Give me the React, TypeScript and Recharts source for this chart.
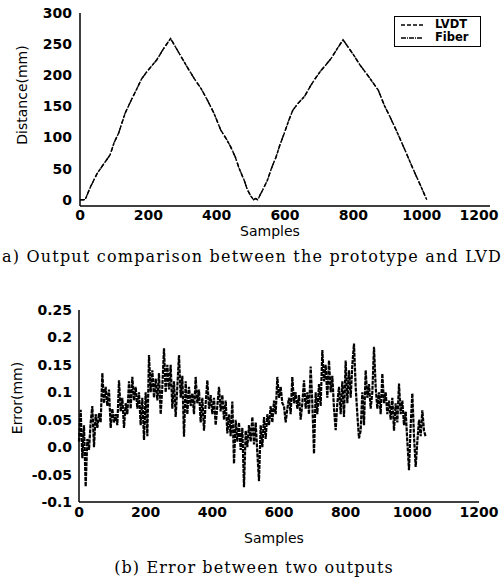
import { LineChart, Line, XAxis, YAxis } from "recharts";

// (a) distance vs samples
const distSamples = [
  0, 15, 30, 50, 70, 88, 100, 113, 132, 150, 167, 180, 196, 210, 225, 245, 265, 280, 299, 315,
  334, 355, 373, 392, 412, 430, 441, 455, 466, 480, 490, 500, 508, 514, 520, 535, 549, 560, 574, 585,
  598, 610, 623, 640, 657, 676, 690, 706, 720, 735, 752, 770, 785, 804, 820, 838, 855, 873, 892,
  905, 921, 935, 951, 965, 980, 995, 1010, 1015,
];
const lvdt = [
  0, 0, 20, 42, 58, 72, 92, 107, 139, 160, 179, 194, 206, 215, 225, 243, 259, 245, 227, 212,
  195, 178, 160, 139, 112, 96, 85, 68, 50, 32, 16, 6, 0, 2, 0, 16, 32, 50, 69, 88,
  107, 126, 144, 156, 166, 184, 196, 208, 217, 227, 242, 257, 245, 230, 216, 203, 190, 176, 150,
  136, 117, 100, 80, 62, 43, 25, 6, 0,
];
const fiber = [
  0.1, 0.2, 19.9, 42.1, 57.9, 72.1, 91.9, 107.1, 138.9, 160.1, 178.9, 194.1, 205.9, 215.1, 224.9, 243.1, 258.9, 245.1, 226.9, 212.1,
  194.9, 178.1, 159.9, 139.1, 111.9, 96.1, 84.9, 68.1, 49.9, 32.1, 15.9, 6.1, 0.1, 2.1, 0.1, 16.1, 31.9, 50.1, 68.9, 88.1,
  106.9, 126.1, 143.9, 156.1, 165.9, 184.1, 195.9, 208.1, 216.9, 227.1, 241.9, 256.9, 245.1, 229.9, 216.1, 202.9, 190.1, 175.9, 150.1,
  135.9, 117.1, 99.9, 80.1, 61.9, 43.1, 24.9, 6.1, 0.1,
];
const distTicksY = [0, 50, 100, 150, 200, 250, 300];
const sampleTicks = [0, 200, 400, 600, 800, 1000, 1200];

// (b) error, one reading every errStep samples
const errStep = 5;
const errValues = [
  0.01, 0.068, -0.02, 0.04, -0.072, 0.015, -0.005, 0.045, 0.075, 0.0, 0.06,
  0.035, 0.062, 0.045, 0.135, 0.08, 0.11, 0.075, 0.105, 0.035, 0.07,
  0.045, 0.06, 0.04, 0.122, 0.065, 0.09, 0.035, 0.08, 0.06, 0.12,
  0.07, 0.128, 0.085, 0.11, 0.07, 0.1, 0.04, 0.09, 0.013, 0.1,
  0.02, 0.168, 0.1, 0.14, 0.09, 0.125, 0.085, 0.135, 0.06, 0.11,
  0.18, 0.1, 0.15, 0.105, 0.15, 0.07, 0.12, 0.055, 0.11, 0.168,
  0.09, 0.13, 0.019, 0.12, 0.06, 0.11, 0.075, 0.098, 0.06, 0.128,
  0.08, 0.105, 0.045, 0.09, 0.03, 0.08, 0.122, 0.07, 0.095, 0.06,
  0.09, 0.04, 0.075, 0.11, 0.065, 0.095, 0.05, 0.085, 0.025, 0.06,
  0.02, 0.083, -0.03, 0.05, 0.01, 0.045, -0.005, 0.035, -0.073, 0.03,
  0.0, 0.04, 0.01, 0.055, 0.005, 0.045, -0.01, -0.062, 0.04, 0.0,
  0.055, 0.015, 0.06, 0.04, 0.075, 0.045, 0.085, 0.06, 0.128, 0.09,
  0.11, 0.08, 0.075, 0.045, 0.07, 0.09, 0.06, 0.128, 0.08, 0.1,
  0.07, 0.095, 0.05, 0.08, 0.122, 0.07, 0.1, 0.06, 0.147, 0.08,
  -0.012, 0.1, 0.06, 0.115, 0.075, 0.177, 0.12, 0.15, 0.09, 0.158,
  0.1, 0.13, 0.07, 0.031, 0.08, 0.11, 0.06, 0.12, 0.055, 0.158,
  0.08, 0.14, 0.09, 0.15, 0.189, 0.11, 0.06, 0.016, 0.03, 0.1,
  0.04, 0.14, 0.09, 0.115, 0.07, 0.1, 0.183, 0.11, 0.07, 0.1,
  0.06, 0.134, 0.08, 0.1, 0.06, 0.085, 0.05, 0.09, 0.03, 0.08,
  0.045, 0.116, 0.06, 0.085, 0.04, 0.065, 0.01, -0.042, 0.04, 0.098,
  0.02, -0.036, 0.01, 0.05, 0.02, 0.067, 0.03, 0.019,
];
const errTicksY = [-0.1, -0.05, 0, 0.05, 0.1, 0.15, 0.2, 0.25];

const distData = distSamples.map((s, i) => ({ sample: s, lvdt: lvdt[i], fiber: fiber[i] }));
const errData = errValues.map((v, i) => ({ sample: i * errStep, err: v }));

const sans = "'DejaVu Sans', sans-serif";
const serif = "'DejaVu Serif', serif";
const tickStyle = { fontSize: 14, fontWeight: 700, fill: "#000", fontFamily: sans };
const axisLine = { stroke: "#000", strokeWidth: 1.5 };

const fmtErr = (v: number) => (v === 0 ? "0.0" : String(v));

// last x label sits at the page edge in the scan, pull it in a little
function makeXTick(lastShift: number) {
  return (props: any) => {
    const { x, y, payload } = props;
    const dx = payload.value === 1200 ? lastShift : 0;
    return (
      <text x={x + dx} y={y} dy="0.71em" textAnchor="middle" {...tickStyle}>
        {payload.value}
      </text>
    );
  };
}

function AxisTitle({ text, x, y, rotate }: { text: string; x: number; y: number; rotate?: boolean }) {
  return (
    <div
      style={{
        position: "absolute",
        left: x,
        top: y,
        transform: `translate(-50%, -50%)${rotate ? " rotate(-90deg)" : ""}`,
        fontFamily: sans,
        fontSize: 14,
        lineHeight: "14px",
        whiteSpace: "nowrap",
        color: "#000",
      }}
    >
      {text}
    </div>
  );
}

export default function App() {
  return (
    <div style={{ position: "absolute", left: 0, top: 0, width: 501, height: 585, background: "#fff", overflow: "hidden" }}>
      <div style={{ position: "absolute", left: 0, top: 0 }}>
        <LineChart width={501} height={240} data={distData} margin={{ top: 13, right: 11, bottom: 0, left: 0 }}>
          <XAxis
            dataKey="sample"
            type="number"
            domain={[0, 1200]}
            ticks={sampleTicks}
            tickSize={0}
            tickMargin={4}
            tick={makeXTick(-6)}
            axisLine={axisLine}
            height={34}
          />
          <XAxis xAxisId="top" orientation="top" type="number" domain={[0, 1200]} tick={false} tickLine={false} axisLine={axisLine} height={0} />
          <YAxis
            type="number"
            domain={[-10, 300]}
            ticks={distTicksY}
            tickSize={0}
            tickMargin={8}
            tick={tickStyle}
            axisLine={axisLine}
            width={80}
          />
          <YAxis yAxisId="right" orientation="right" domain={[-10, 300]} tick={false} tickLine={false} axisLine={axisLine} width={0} />
          <Line type="linear" dataKey="lvdt" stroke="#000" strokeWidth={1.4} strokeDasharray="4 2" dot={false} isAnimationActive={false} />
          <Line type="linear" dataKey="fiber" stroke="#000" strokeWidth={1.4} strokeDasharray="5 2 1 2" dot={false} isAnimationActive={false} />
        </LineChart>
      </div>

      <div
        style={{
          position: "absolute",
          left: 394,
          top: 16,
          width: 87,
          height: 31,
          border: "1.5px solid #000",
          boxSizing: "border-box",
          background: "#fff",
          fontFamily: sans,
          fontSize: 11.5,
          fontWeight: 700,
          lineHeight: "13px",
          padding: "1px 0 0 6px",
        }}
      >
        {[
          { name: "LVDT", dash: "4 2" },
          { name: "Fiber", dash: "5 1 1 1" },
        ].map((it) => (
          <div key={it.name} style={{ display: "flex", alignItems: "center", height: 13 }}>
            <svg width={22} height={6} style={{ marginRight: 12 }}>
              <line x1={0} y1={3} x2={22} y2={3} stroke="#000" strokeWidth={1.3} strokeDasharray={it.dash} />
            </svg>
            <span>{it.name}</span>
          </div>
        ))}
      </div>

      <AxisTitle text="Distance(mm)" x={22} y={95} rotate />
      <AxisTitle text="Samples" x={270} y={231} />
      <div
        style={{
          position: "absolute",
          left: 2,
          top: 247,
          fontFamily: serif,
          fontSize: 16,
          letterSpacing: 1.2,
          whiteSpace: "nowrap",
          color: "#000",
        }}
      >
        a) Output comparison between the prototype and LVD
      </div>

      <div style={{ position: "absolute", left: 0, top: 300 }}>
        <LineChart width={501} height={240} data={errData} margin={{ top: 10, right: 22, bottom: 0, left: 0 }}>
          <XAxis
            dataKey="sample"
            type="number"
            domain={[0, 1200]}
            ticks={sampleTicks}
            tickSize={0}
            tickMargin={5}
            tick={makeXTick(0)}
            axisLine={axisLine}
            height={38}
          />
          <XAxis xAxisId="top" orientation="top" type="number" domain={[0, 1200]} tick={false} tickLine={false} axisLine={axisLine} height={0} />
          <YAxis
            type="number"
            domain={[-0.1, 0.25]}
            ticks={errTicksY}
            tickFormatter={fmtErr}
            tickSize={0}
            tickMargin={7}
            tick={tickStyle}
            axisLine={axisLine}
            width={79}
          />
          <YAxis yAxisId="right" orientation="right" domain={[-0.1, 0.25]} tick={false} tickLine={false} axisLine={axisLine} width={0} />
          <Line type="linear" dataKey="err" stroke="#000" strokeWidth={2.2} strokeDasharray="4 1" dot={false} isAnimationActive={false} />
        </LineChart>
      </div>

      <AxisTitle text="Error(mm)" x={17} y={398} rotate />
      <AxisTitle text="Samples" x={274} y={538} />
      <div
        style={{
          position: "absolute",
          left: 254,
          top: 567,
          transform: "translate(-50%, -50%)",
          fontFamily: serif,
          fontSize: 16,
          letterSpacing: 1.1,
          whiteSpace: "nowrap",
          color: "#000",
        }}
      >
        (b) Error between two outputs
      </div>
    </div>
  );
}
